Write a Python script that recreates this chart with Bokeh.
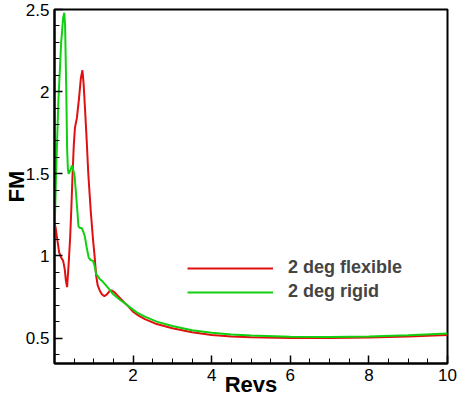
from bokeh.plotting import figure
from bokeh.models import FixedTicker, Legend
from bokeh.embed import file_html
from bokeh.resources import INLINE

# ---- data ----
flex_x = [0.0, 0.03, 0.07, 0.12, 0.17, 0.22, 0.26, 0.29, 0.32, 0.36, 0.40, 0.43, 0.46,
          0.49, 0.52, 0.57, 0.62, 0.67, 0.71, 0.74, 0.78, 0.82, 0.86, 0.92, 0.98, 1.02,
          1.06, 1.10, 1.15, 1.21, 1.27, 1.33, 1.40, 1.45, 1.52, 1.60, 1.68, 1.78, 1.89,
          2.0, 2.15, 2.3, 2.6, 3.0, 3.5, 4.0, 4.5, 5.0, 6.0, 7.0, 8.0, 9.0, 10.0]
flex_y = [1.2, 1.17, 1.10, 1.02, 0.99, 0.97, 0.92, 0.85, 0.81, 0.95, 1.12, 1.30, 1.50,
          1.67, 1.78, 1.84, 1.95, 2.08, 2.13, 2.05, 1.88, 1.70, 1.50, 1.28, 1.10, 1.0,
          0.88, 0.82, 0.79, 0.765, 0.755, 0.765, 0.785, 0.79, 0.78, 0.76, 0.74, 0.715, 0.69,
          0.66, 0.635, 0.615, 0.585, 0.56, 0.535, 0.518, 0.51, 0.505, 0.5, 0.5, 0.503, 0.51, 0.518]

rigid_x = [0.0, 0.04, 0.1, 0.17, 0.22, 0.25, 0.27, 0.30, 0.32, 0.34, 0.36, 0.40, 0.445,
           0.48, 0.51, 0.57, 0.61, 0.65, 0.69, 0.73, 0.77, 0.82, 0.87, 0.92, 0.98, 1.02,
           1.06, 1.15, 1.22, 1.31, 1.40, 1.48, 1.58, 1.68, 1.80, 1.93, 2.1, 2.3, 2.6, 3.0,
           3.5, 4.0, 4.5, 5.0, 6.0, 7.0, 8.0, 9.0, 10.0]
rigid_y = [1.12, 1.5, 1.95, 2.3, 2.45, 2.48, 2.4, 2.0, 1.66, 1.53, 1.50, 1.52, 1.55,
           1.52, 1.49, 1.31, 1.18, 1.17, 1.17, 1.15, 1.12, 1.05, 0.99, 0.975, 0.97, 0.94,
           0.89, 0.86, 0.845, 0.82, 0.795, 0.77, 0.75, 0.73, 0.71, 0.685, 0.655, 0.63, 0.60, 0.573,
           0.548, 0.532, 0.522, 0.515, 0.508, 0.507, 0.51, 0.517, 0.527]

x_ticks = [2, 4, 6, 8, 10]
x_minor = [0.5, 1, 1.5, 2.5, 3, 3.5, 4.5, 5, 5.5, 6.5, 7, 7.5, 8.5, 9, 9.5]
y_ticks = [0.5, 1.0, 1.5, 2.0, 2.5]
y_minor = [0.4, 0.6, 0.7, 0.8, 0.9, 1.1, 1.2, 1.3, 1.4, 1.6, 1.7, 1.8, 1.9, 2.1, 2.2, 2.3, 2.4]

FONT = "Liberation Sans"

p = figure(width=457, height=399, x_range=(0, 10), y_range=(0.345, 2.5),
           output_backend="svg", toolbar_location=None,
           min_border_left=50, min_border_right=10, min_border_top=9, min_border_bottom=30)

r1 = p.line(flex_x, flex_y, line_color="#e01010", line_width=2)
r2 = p.line(rigid_x, rigid_y, line_color="#10d010", line_width=2)

p.xgrid.visible = False
p.ygrid.visible = False
p.outline_line_color = "black"
p.outline_line_width = 2
p.background_fill_color = "white"
p.border_fill_color = "white"

p.xaxis.ticker = FixedTicker(ticks=x_ticks, minor_ticks=x_minor)
p.yaxis.ticker = FixedTicker(ticks=y_ticks, minor_ticks=y_minor)

for ax in (p.xaxis, p.yaxis):
    ax.axis_line_width = 2
    ax.axis_line_color = "black"
    ax.major_tick_in = 8
    ax.major_tick_out = 0
    ax.minor_tick_in = 5
    ax.minor_tick_out = 0
    ax.major_tick_line_width = 1.5
    ax.major_tick_line_color = "black"
    ax.minor_tick_line_color = "black"
    ax.major_label_text_font = FONT
    ax.major_label_text_font_size = "17px"
    ax.major_label_text_color = "black"
    ax.axis_label_text_font = FONT
    ax.axis_label_text_font_style = "bold"
    ax.axis_label_text_font_size = "22px"
    ax.axis_label_text_color = "black"

p.xaxis.axis_label = "Revs"
p.yaxis.axis_label = "FM"
p.xaxis.major_label_standoff = 5
p.xaxis.axis_label_standoff = -12
p.yaxis.major_label_standoff = 5
p.yaxis.axis_label_standoff = -6

legend = Legend(items=[("2 deg flexible", [r1]), ("2 deg rigid", [r2])],
                location=(133, 61), border_line_color=None, background_fill_alpha=0,
                padding=0, margin=0, spacing=3, glyph_width=86, glyph_height=20,
                label_standoff=15, label_text_font=FONT, label_text_font_style="bold",
                label_text_font_size="18px", label_height=20)
p.add_layout(legend, "center")

open("out.html", "w").write(file_html(p, INLINE))
